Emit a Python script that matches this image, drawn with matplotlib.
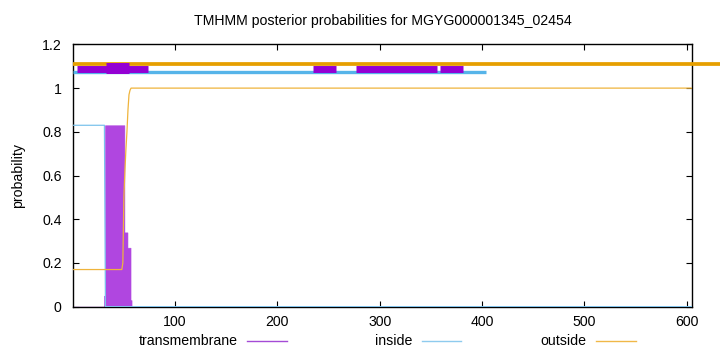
import matplotlib
matplotlib.use("Agg")
import matplotlib.pyplot as plt
from matplotlib.lines import Line2D
import numpy as np

plt.rcParams['font.family'] = ['Liberation Sans', 'DejaVu Sans']

# ---- data ----
seq_len = 605
positions = list(range(1, seq_len + 1))
inside_prob = [0.83] * 31 + [0.0] * 574
outside_prob = [0.17] * 48 + [0.20, 0.50, 0.62, 0.72, 0.80, 0.90, 0.97, 0.99] + [1.0] * 549
tm_prob = [0.0] * 30 + [0.05] + [0.83] * 19 + [0.34] * 3 + [0.27] * 3 + [0.03] + [0.0] * 548

# topology bands drawn above the curves
outside_band = [(0, 700)]
inside_band = [(0, 404)]
tm_band_thin = [(4, 74), (235, 257), (277, 356), (359, 381)]
tm_band_thick = [(32.5, 55)]
band_levels = {"outside": 1.111, "inside": 1.073, "tm": 1.089, "tm_thick": 1.093}

xticks = [100, 200, 300, 400, 500, 600]
yticks = [0, 0.2, 0.4, 0.6, 0.8, 1.0, 1.2]
ytick_labels = ["0", "0.2", "0.4", "0.6", "0.8", "1", "1.2"]
title = "TMHMM posterior probabilities for MGYG000001345_02454"
legend_labels = ["transmembrane", "inside", "outside"]

# ---- style ----
C_TM = "#9400D3"
C_TM_FILL = "#b046e0"
C_IN = "#56B4E9"
C_OUT = "#E69F00"
FS = 10.2

W, H = 720, 352
fig = plt.figure(figsize=(W / 100, H / 100), dpi=100)
ax = fig.add_axes([72.7 / W, 1 - 306.7 / H, (692.3 - 72.7) / W, (306.7 - 44.4) / H])

# curves
ax.fill_between(positions, tm_prob, 0, step="mid", color=C_TM_FILL, linewidth=0.4,
                edgecolor=C_TM_FILL, zorder=2)
ax.plot(positions, inside_prob, color="#7cc3ec", lw=0.9, zorder=3)
ax.plot(positions, outside_prob, color="#efb43c", lw=0.9, zorder=3)

# bands
for a, b in outside_band:
    ax.hlines(band_levels["outside"], a, b, color=C_OUT, lw=2.7, clip_on=False, zorder=4)
for a, b in inside_band:
    ax.hlines(band_levels["inside"], a, b, color=C_IN, lw=2.4, zorder=4)
for a, b in tm_band_thin:
    ax.hlines(band_levels["tm"], a, b, color=C_TM, lw=5.0, zorder=5)
for a, b in tm_band_thick:
    ax.hlines(band_levels["tm_thick"], a, b, color=C_TM, lw=7.9, zorder=5)

ax.set_xlim(0, 605.4)
ax.set_ylim(0, 1.2)
ax.set_xticks(xticks)
ax.set_xticklabels([str(t) for t in xticks], fontsize=FS)
ax.set_yticks(yticks)
ax.set_yticklabels(ytick_labels, fontsize=FS)
ax.tick_params(axis="x", direction="in", length=4, width=0.8, top=True, pad=6)
ax.tick_params(axis="y", direction="in", length=4, width=0.8, right=True, pad=8)
for s in ax.spines.values():
    s.set_linewidth(1.0)
ax.set_ylabel("probability", fontsize=FS, labelpad=12)
ax.set_title(title, fontsize=FS, pad=14)

# legend (gnuplot style: text then sample line)
leg_y = 1 - 341 / H
legend_layout = [(238, 247, 287, "#a44bd6"), (412, 422, 461, "#8ecbee"), (586, 596, 636, "#f0b848")]
for lab, (tx, l0, l1, col) in zip(legend_labels, legend_layout):
    fig.text(tx / W, leg_y, lab, ha="right", va="center", fontsize=FS)
    fig.add_artist(Line2D([l0 / W, l1 / W], [leg_y, leg_y], color=col, lw=1.0,
                          transform=fig.transFigure))

fig.savefig("out.png", dpi=100)
